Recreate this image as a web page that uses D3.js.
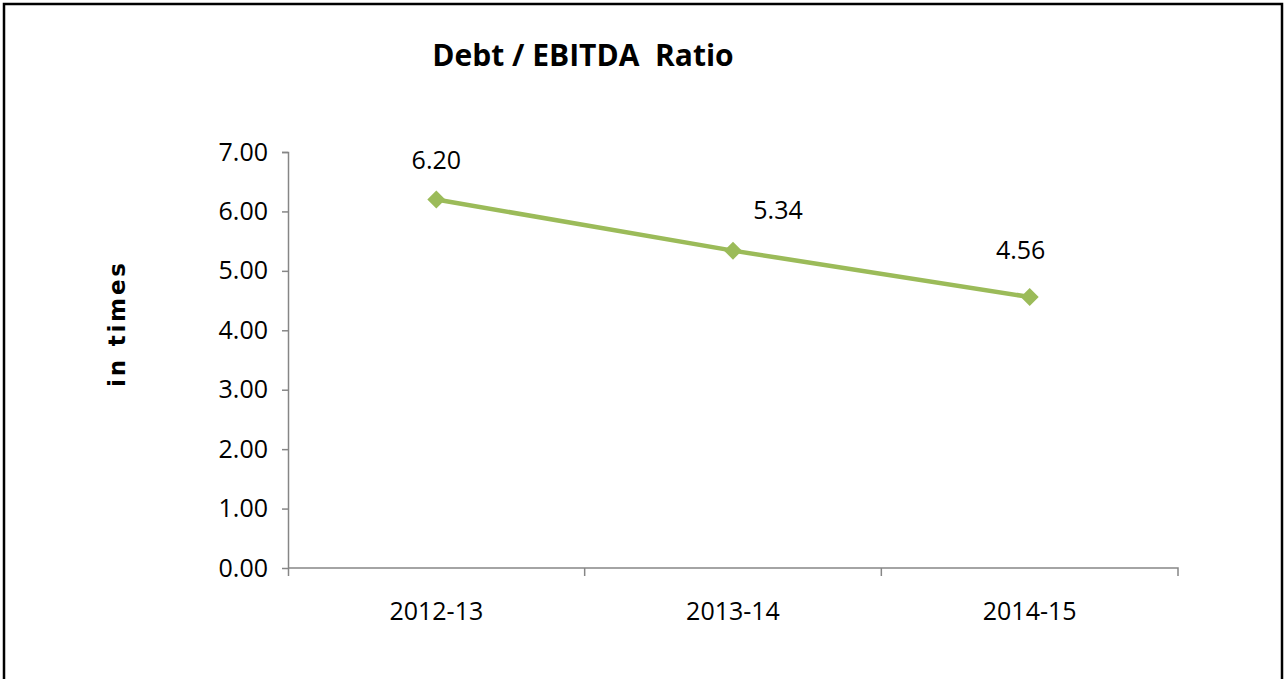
<!DOCTYPE html>
<html>
<head>
<meta charset="utf-8">
<script src="https://cdn.jsdelivr.net/npm/d3@7"></script>
<style>
  body { margin: 0; background: #fff; }
  .axis path, .axis line { stroke: #868686; stroke-width: 1.5; }
  .axis text { font-family: "Open Sans", sans-serif; font-size: 25px; fill: #000; }
</style>
</head>
<body>
<div id="chart"></div>
<script>
// data
var years = ["2012-13", "2013-14", "2014-15"];
var ratio = [6.20, 5.34, 4.56];
var yTicks = [0, 1, 2, 3, 4, 5, 6, 7];

var W = 1285, H = 679;
var margin = {top: 152, right: 107, bottom: 111, left: 288},
    width = W - margin.left - margin.right,
    height = H - margin.top - margin.bottom;

var svg = d3.select("#chart").append("svg")
    .attr("width", W)
    .attr("height", H);

// outer frame
svg.append("rect")
    .attr("x", 4).attr("y", 4)
    .attr("width", W - 7).attr("height", H + 10)
    .attr("fill", "none")
    .attr("stroke", "#000")
    .attr("stroke-width", 2.5);

// title
svg.append("text")
    .attr("x", 583).attr("y", 66)
    .attr("text-anchor", "middle")
    .style("font-family", "'Open Sans', sans-serif")
    .style("font-weight", "bold")
    .style("font-size", "30px")
    .style("white-space", "pre")
    .text("Debt / EBITDA  Ratio");

// y axis title
svg.append("text")
    .attr("transform", "translate(125,325) rotate(-90)")
    .attr("text-anchor", "middle")
    .attr("textLength", 124)
    .attr("lengthAdjust", "spacing")
    .style("font-family", "'DejaVu Sans', Verdana, sans-serif")
    .style("font-weight", "bold")
    .style("font-size", "23px")
    .text("in times");

var g = svg.append("g")
    .attr("transform", "translate(" + margin.left + "," + margin.top + ")");

// scales
var x = d3.scaleBand().domain(years).range([0, width]);
var y = d3.scaleLinear().domain([0, 7]).range([height, 0]);

// y axis
var yAxis = g.append("g")
    .attr("class", "axis")
    .call(d3.axisLeft(y).tickValues(yTicks).tickFormat(d3.format(".2f")).tickSize(6).tickPadding(14));
yAxis.select(".domain").attr("d", "M-6,0.5H0.5V" + (height + 8));

// x axis
var xAxis = g.append("g")
    .attr("class", "axis")
    .attr("transform", "translate(0," + height + ")")
    .call(d3.axisBottom(x).tickSize(0).tickPadding(34));
xAxis.select(".domain").attr("d", "M0,0H" + width + "V8");
// category boundary ticks
xAxis.selectAll(".sep")
    .data(years.slice(1))
    .enter().append("line")
    .attr("class", "sep")
    .attr("x1", d => x(d)).attr("x2", d => x(d))
    .attr("y1", 0).attr("y2", 8);

// line
var cx = (d, i) => x(years[i]) + x.bandwidth() / 2;
var line = d3.line()
    .x((d, i) => cx(d, i))
    .y(d => y(d));

g.append("path")
    .datum(ratio)
    .attr("fill", "none")
    .attr("stroke", "#9BBB59")
    .attr("stroke-width", 4.5)
    .attr("d", line);

// diamond markers
g.selectAll(".marker")
    .data(ratio)
    .enter().append("path")
    .attr("class", "marker")
    .attr("transform", (d, i) => "translate(" + cx(d, i) + "," + y(d) + ")")
    .attr("d", "M0,-9L9,0L0,9L-9,0Z")
    .attr("fill", "#9BBB59");

// data labels (nudged like the original)
var labelDx = [0, 45, -9];
var labelDy = [0, -1, -7];
g.selectAll(".lbl")
    .data(ratio)
    .enter().append("text")
    .attr("class", "lbl")
    .attr("x", (d, i) => cx(d, i) + labelDx[i])
    .attr("y", (d, i) => y(d) - 31 + labelDy[i])
    .attr("text-anchor", "middle")
    .style("font-family", "'Open Sans', sans-serif")
    .style("font-size", "25px")
    .text(d => d.toFixed(2));
</script>
</body>
</html>
